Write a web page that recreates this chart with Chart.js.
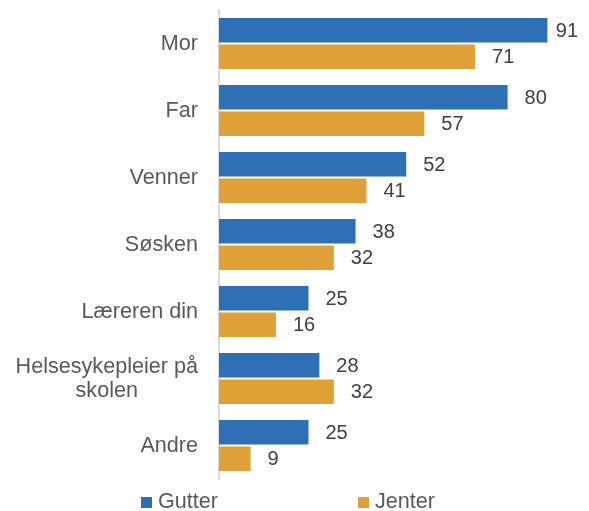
<!DOCTYPE html>
<html lang="no">
<head>
<meta charset="utf-8">
<title>Hvem snakker du med</title>
<script src="https://cdn.jsdelivr.net/npm/chart.js@4/dist/chart.umd.min.js"></script>
<style>
  html, body { margin: 0; padding: 0; background: #ffffff; }
  #wrap { position: relative; width: 589px; height: 511px; }
</style>
</head>
<body>
<div id="wrap"><canvas id="chart"></canvas></div>
<script>
const categories = ['Mor', 'Far', 'Venner', 'Søsken', 'Læreren din', ['Helsesykepleier på', 'skolen'], 'Andre'];
const gutter = [91, 80, 52, 38, 25, 28, 25];
const jenter = [71, 57, 41, 32, 16, 32, 9];
const seriesNames = ['Gutter', 'Jenter'];

const BLUE = '#2E6FB5';
const ORANGE = '#E0A038';
const FONT = "'Liberation Sans', Arial, sans-serif";

// category labels: right-aligned block, lines centred inside it
const categoryLabels = {
  id: 'categoryLabels',
  afterDraw(chart) {
    const { ctx } = chart;
    const y = chart.scales.y;
    const right = y.right - 21;
    ctx.save();
    ctx.font = '21.6px ' + FONT;
    ctx.fillStyle = '#595959';
    ctx.textBaseline = 'middle';
    ctx.textAlign = 'center';
    categories.forEach((cat, i) => {
      const lines = Array.isArray(cat) ? cat : [cat];
      const w = Math.max(...lines.map(l => ctx.measureText(l).width));
      const cy = y.getPixelForTick(i) + 1;
      const lh = 24;
      lines.forEach((line, k) => {
        ctx.fillText(line, right - w / 2, cy + (k - (lines.length - 1) / 2) * lh);
      });
    });
    ctx.restore();
  }
};

// value labels just past the end of each bar
const valueLabels = {
  id: 'valueLabels',
  afterDatasetsDraw(chart) {
    const { ctx, chartArea } = chart;
    ctx.save();
    ctx.font = '20px ' + FONT;
    ctx.fillStyle = '#404040';
    ctx.textBaseline = 'middle';
    ctx.textAlign = 'left';
    chart.data.datasets.forEach((ds, di) => {
      chart.getDatasetMeta(di).data.forEach((bar, i) => {
        const txt = String(ds.data[i]);
        const w = ctx.measureText(txt).width;
        let x = bar.x + 16;
        if (x + w > chartArea.right - 3) x = chartArea.right - 3 - w;
        ctx.fillText(txt, x, bar.y + 1);
      });
    });
    ctx.restore();
  }
};

// legend along the bottom edge
const bottomLegend = {
  id: 'bottomLegend',
  afterDraw(chart) {
    const { ctx } = chart;
    const starts = [141, 358];
    ctx.save();
    ctx.font = '21.6px ' + FONT;
    ctx.textBaseline = 'middle';
    ctx.textAlign = 'left';
    chart.data.datasets.forEach((ds, i) => {
      ctx.fillStyle = ds.backgroundColor;
      ctx.fillRect(starts[i], 497, 11, 11);
      ctx.fillStyle = '#595959';
      ctx.fillText(ds.label, starts[i] + 17, 502);
    });
    ctx.restore();
  }
};

new Chart(document.getElementById('chart'), {
  type: 'bar',
  data: {
    labels: categories,
    datasets: [
      { label: seriesNames[0], data: gutter, backgroundColor: BLUE,
        borderColor: 'rgba(255,255,255,0.25)', borderWidth: 1 },
      { label: seriesNames[1], data: jenter, backgroundColor: ORANGE,
        borderColor: 'rgba(255,255,255,0.25)', borderWidth: 1 }
    ]
  },
  options: {
    indexAxis: 'y',
    responsive: true,
    maintainAspectRatio: false,
    animation: false,
    layout: { padding: { top: 10, right: 8, bottom: 32, left: 0 } },
    datasets: { bar: { categoryPercentage: 0.79, barPercentage: 1 } },
    plugins: {
      legend: { display: false },
      tooltip: { enabled: false }
    },
    scales: {
      x: { display: false, min: 0, max: 100 },
      y: {
        ticks: { display: false },
        grid: { display: false },
        border: { display: true, color: '#d9d9d9', width: 2 },
        afterFit(scale) { scale.width = 219; }
      }
    }
  },
  plugins: [categoryLabels, valueLabels, bottomLegend]
});
</script>
</body>
</html>
